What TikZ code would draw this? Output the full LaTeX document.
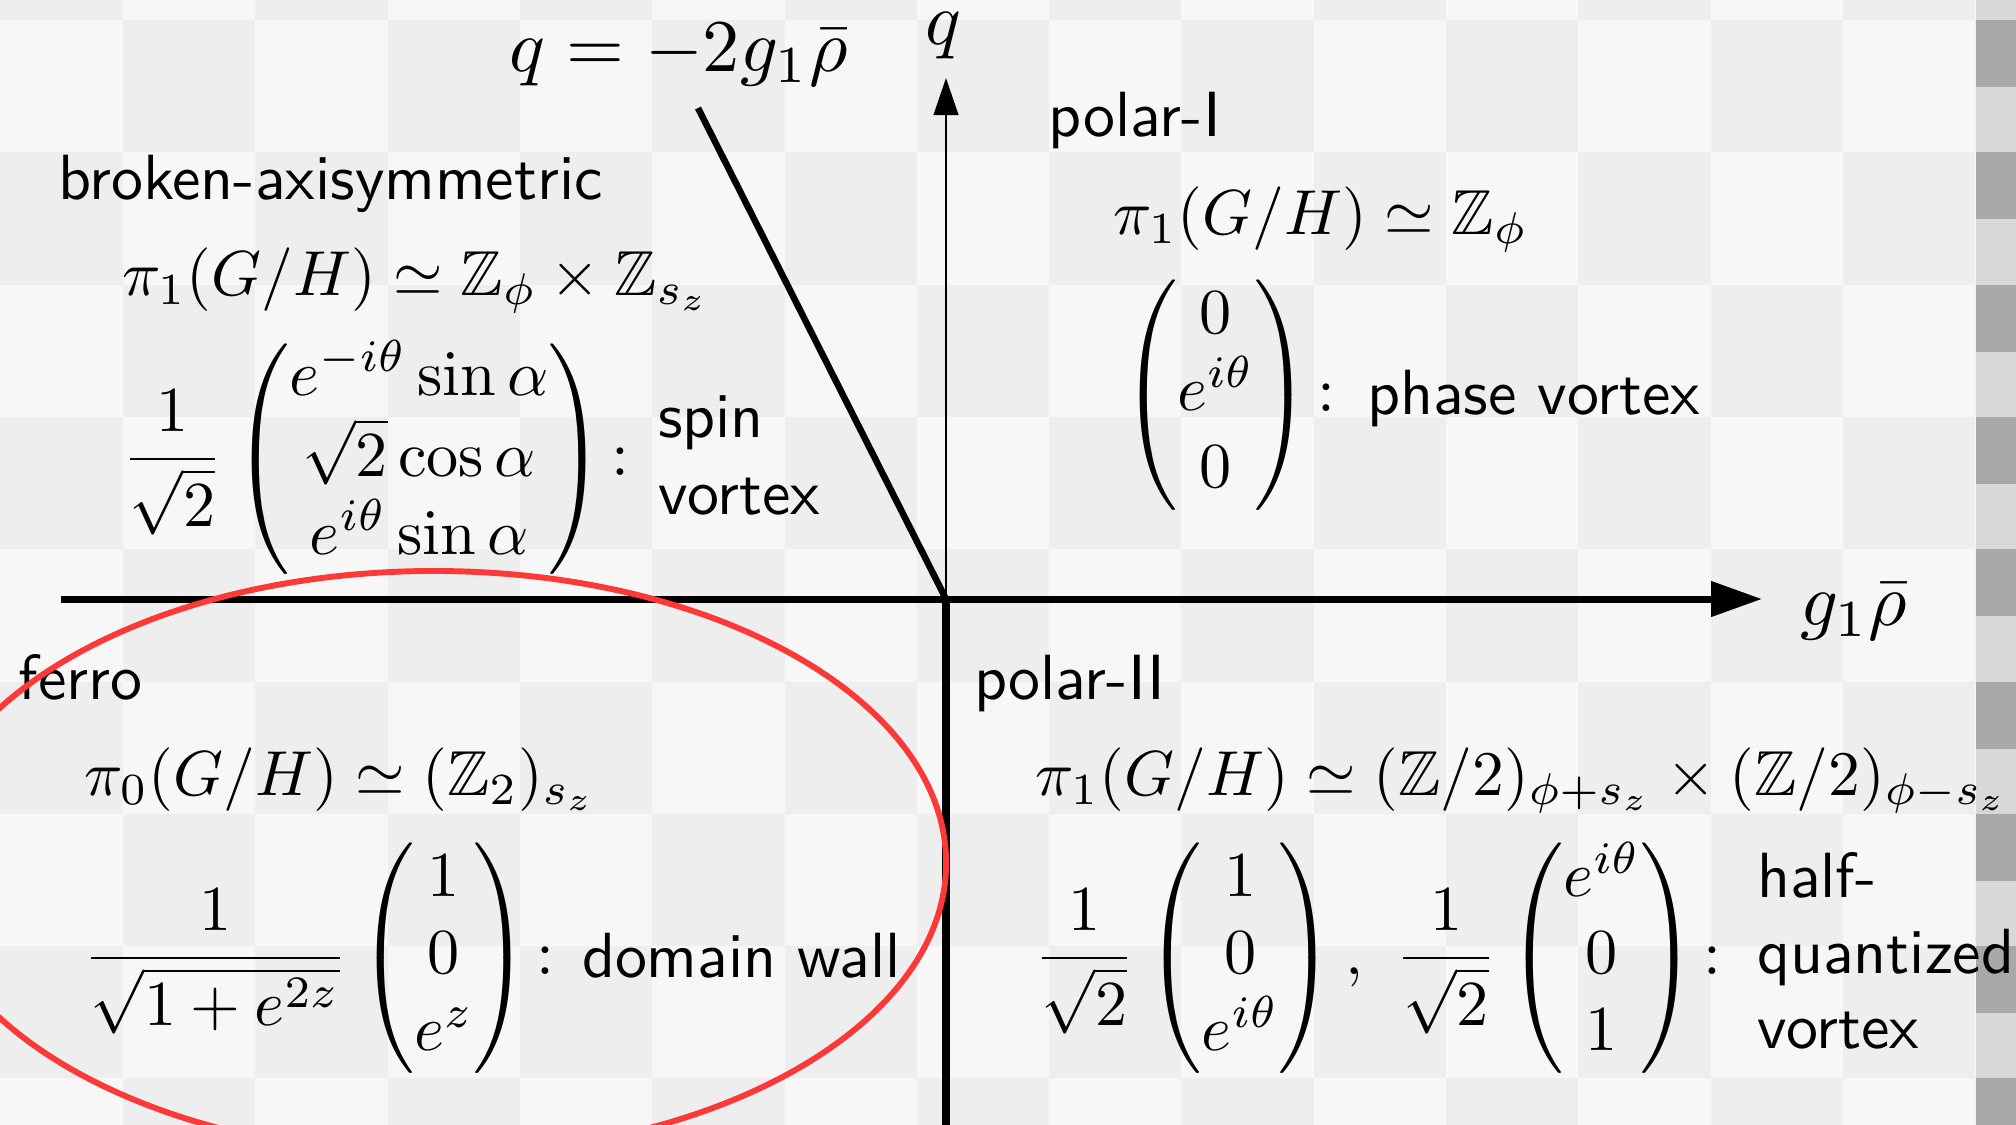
\documentclass[tikz,border=0pt]{standalone}
\usepackage{amsmath,amssymb}
\usepackage{graphicx}
\usetikzlibrary{arrows.meta}
\definecolor{chkL}{HTML}{F7F7F7}
\definecolor{chkD}{HTML}{EEEEEE}
\definecolor{stripL}{HTML}{D8D8D8}
\definecolor{stripD}{HTML}{A8A8A8}
\definecolor{ovalred}{RGB}{255,56,56}
\newcommand{\fmlsz}[1]{\scalebox{1.025}{#1}}
\newcommand{\bigsz}[1]{\scalebox{1.2}{#1}}
\newcommand{\mtxsz}[1]{\scalebox{1.035}{#1}}
\newcommand{\mcolon}{\mskip-3mu:}
\tikzset{
  lbl/.style={inner sep=0pt, outer sep=0pt, anchor=base west, font=\fontsize{10.3}{12.4}\selectfont\sffamily},
  fml/.style={inner sep=0pt, outer sep=0pt, anchor=base west},
  mtx/.style={inner sep=0pt, outer sep=0pt, anchor=base west},
  biglbl/.style={inner sep=0pt, outer sep=0pt, anchor=base west},
  axisthick/.style={line width=1.13pt},
  axisthin/.style={line width=0.32pt},
  phaseline/.style={line width=1.05pt},
  oval/.style={draw=ovalred, line width=0.95pt},
}
\begin{document}
\begin{tikzpicture}[x=0.16129pt, y=-0.16129pt]
\useasboundingbox (0,0) rectangle (2016,1125);
\clip (0,0) rectangle (2016,1125);
% background checkerboard
\fill[chkL] (0,0) rectangle (2016,1125);
\foreach \i in {0,...,15}{
  \foreach \j in {0,...,9}{
    \pgfmathtruncatemacro{\parity}{mod(\i+\j,2)}
    \ifnum\parity=0
      \fill[chkD] ({\i*132.3-9.3},{\j*132.3-112.3}) rectangle ++(132.3,132.3);
    \fi
  }
}
\fill[stripL] (1976,0) rectangle (2016,1125);
\foreach \k in {0,...,8}{
  \fill[stripD] (1976,{\k*132.3+20}) rectangle (2016,{\k*132.3+87});
}
% axes
\coordinate (O) at (946,599);
\coordinate (xstart) at (61,599);
\coordinate (xend) at (1762,599);
\coordinate (ytop) at (946,78);
\coordinate (ybot) at (946,1130);
\coordinate (dtop) at (698,108);
\draw[axisthick, -{Triangle[length=8.2pt,width=5.5pt]}] (xstart) -- (xend);
\draw[axisthin, -{Triangle[length=6pt,width=4pt]}] (O) -- (ytop);
\draw[axisthick] (O) -- (ybot);
\draw[phaseline] (dtop) -- (O);
% labels
\node[biglbl] (qlabel) at (510,71) {\bigsz{$q=-2g_1\bar\rho$}};
\node[biglbl] (qaxis) at (925,44) {\bigsz{$q$}};
\node[biglbl] (gaxis) at (1800,625) {\bigsz{$g_1\bar\rho$}};
% broken-axisymmetric
\node[lbl] (ba) at (58,199) {broken-axisymmetric};
\node[fml] (bapi) at (122,295) {\fmlsz{$\pi_1(G/H)\simeq\mathbb{Z}_\phi\times\mathbb{Z}_{s_z}$}};
\node[mtx] (bamat) at (122,475) {\mtxsz{$\displaystyle\frac{1}{\sqrt{2}}\begin{pmatrix}e^{-i\theta}\sin\alpha\\ \sqrt{2}\cos\alpha\\ e^{i\theta}\sin\alpha\end{pmatrix}\mcolon$}};
\node[lbl] (baspin) at (658,437) {spin};
\node[lbl] (bavort) at (658,514) {vortex};
% polar-I
\node[lbl] (pI) at (1049,136) {polar-I};
\node[fml] (pIpi) at (1113,234) {\fmlsz{$\pi_1(G/H)\simeq\mathbb{Z}_\phi$}};
\node[mtx] (pImat) at (1121,411) {\mtxsz{$\begin{pmatrix}0\\ e^{i\theta}\\ 0\end{pmatrix}\mcolon$}};
\node[lbl] (pItxt) at (1367,414) {phase vortex};
% ferro
\node[lbl] (fe) at (19,699) {ferro};
\node[fml] (fepi) at (84,795) {\fmlsz{$\pi_0(G/H)\simeq(\mathbb{Z}_2)_{s_z}$}};
\node[mtx] (femat) at (83,974) {\mtxsz{$\displaystyle\frac{1}{\sqrt{1+e^{2z}}}\begin{pmatrix}1\\ 0\\ e^{z}\end{pmatrix}\mcolon$}};
\node[lbl] (fetxt) at (582,977) {domain wall};
% polar-II
\node[lbl] (pII) at (974,699) {polar-II};
\node[fml] (pIIpi) at (1035,795) {\fmlsz{$\pi_1(G/H)\simeq(\mathbb{Z}/2)_{\phi+s_z}\times(\mathbb{Z}/2)_{\phi-s_z}$}};
\node[mtx] (pIImat) at (1034,974) {\mtxsz{$\displaystyle\frac{1}{\sqrt{2}}\begin{pmatrix}1\\ 0\\ e^{i\theta}\end{pmatrix},\ \frac{1}{\sqrt{2}}\begin{pmatrix}e^{i\theta}\\ 0\\ 1\end{pmatrix}\mcolon$}};
\node[lbl] (pIIa) at (1757,897) {half-};
\node[lbl] (pIIb) at (1757,973) {quantized};
\node[lbl] (pIIc) at (1757,1048) {vortex};
% red oval
\draw[oval] (434,863) ellipse [x radius=82.6pt, y radius=47.1pt];
\end{tikzpicture}
\end{document}
